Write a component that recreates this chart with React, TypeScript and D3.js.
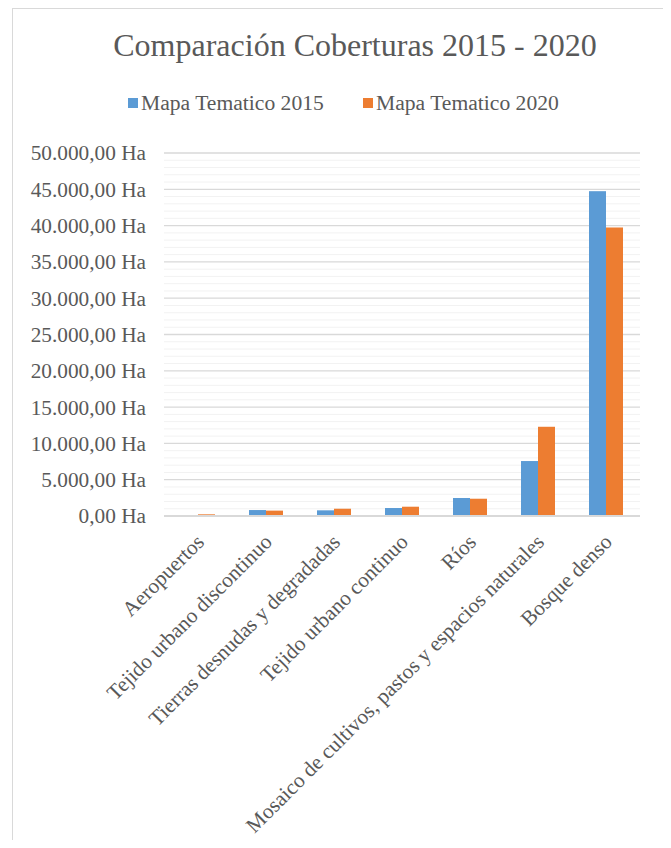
import React from "react";
import * as d3 from "d3";

const categories = [
  "Aeropuertos",
  "Tejido urbano discontinuo",
  "Tierras desnudas y degradadas",
  "Tejido urbano continuo",
  "Ríos",
  "Mosaico de cultivos, pastos y espacios naturales",
  "Bosque denso",
];
const seriesNames = ["Mapa Tematico 2015", "Mapa Tematico 2020"];
const values2015 = [80, 820, 780, 1100, 2480, 7570, 44740];
const values2020 = [230, 740, 1000, 1280, 2380, 12290, 39740];
const yTicks = [0, 5000, 10000, 15000, 20000, 25000, 30000, 35000, 40000, 45000, 50000];
const colors = ["#5B9BD5", "#ED7D31"];

const W = 671;
const H = 848;
const FONT = "Liberation Serif, Times New Roman, Times, serif";
const TEXT = "#595959";

const fmt = (v: number) => {
  const loc = d3.formatLocale({ decimal: ",", thousands: ".", grouping: [3], currency: ["", ""] });
  return loc.format(",.2f")(v) + " Ha";
};

export default function App() {
  const left = 164;
  const right = 640;
  const top = 153;
  const bottom = 516;
  const x = d3.scaleBand<string>().domain(categories).range([left, right]).padding(0);
  const y = d3.scaleLinear().domain([0, 50000]).range([bottom, top]);
  const inner = d3.scaleBand<string>().domain(seriesNames).range([-17, 17]).padding(0);
  const minor = d3.range(0, 50001, 1000).filter((v) => v % 5000 !== 0);
  const series = [values2015, values2020];

  return (
    <div style={{ margin: -8 }}>
      <svg width={W} height={H} style={{ display: "block", background: "#fff", fontFamily: FONT }}>
        <rect x={12.5} y={8.5} width={655} height={H + 10} fill="#fff" stroke="#D9D9D9" strokeWidth={1} />
        <text x={355} y={56} textAnchor="middle" fontSize={32} fill={TEXT} style={{ fontFamily: FONT }}>
          Comparación Coberturas 2015 - 2020
        </text>
        {seriesNames.map((s, i) => {
          const lx = i === 0 ? 128 : 363;
          return (
            <g key={s}>
              <rect x={lx} y={98} width={10} height={10} fill={colors[i]} />
              <text x={lx + 13} y={110} fontSize={21.6} fill={TEXT} style={{ fontFamily: FONT }}>
                {s}
              </text>
            </g>
          );
        })}
        {minor.map((v) => (
          <line key={"m" + v} x1={left} x2={right} y1={y(v)} y2={y(v)} stroke="#F2F2F2" strokeWidth={1} />
        ))}
        {yTicks.map((v) => (
          <g key={v}>
            <line x1={left} x2={right} y1={y(v)} y2={y(v)} stroke="#D9D9D9" strokeWidth={1.3} />
            <text x={146} y={y(v)} dy="0.35em" textAnchor="end" fontSize={21.3} fill={TEXT} style={{ fontFamily: FONT }}>
              {fmt(v)}
            </text>
          </g>
        ))}
        {categories.map((c, ci) =>
          series.map((vals, si) => {
            const cx = (x(c) as number) + x.bandwidth() / 2;
            const bx = cx + (inner(seriesNames[si]) as number);
            return (
              <rect
                key={c + si}
                x={bx}
                width={inner.bandwidth()}
                y={y(vals[ci])}
                height={bottom - y(vals[ci])}
                fill={colors[si]}
              />
            );
          })
        )}
        <line x1={left} x2={right} y1={bottom} y2={bottom} stroke="#D9D9D9" strokeWidth={2} />
        {categories.map((c) => {
          const cx = (x(c) as number) + x.bandwidth() / 2;
          return (
            <text
              key={c}
              transform={`translate(${cx + 2},${bottom + 22}) rotate(-45)`}
              textAnchor="end"
              dy="0.35em"
              fontSize={21.3}
              fill={TEXT}
              style={{ fontFamily: FONT }}
            >
              {c}
            </text>
          );
        })}
      </svg>
    </div>
  );
}
